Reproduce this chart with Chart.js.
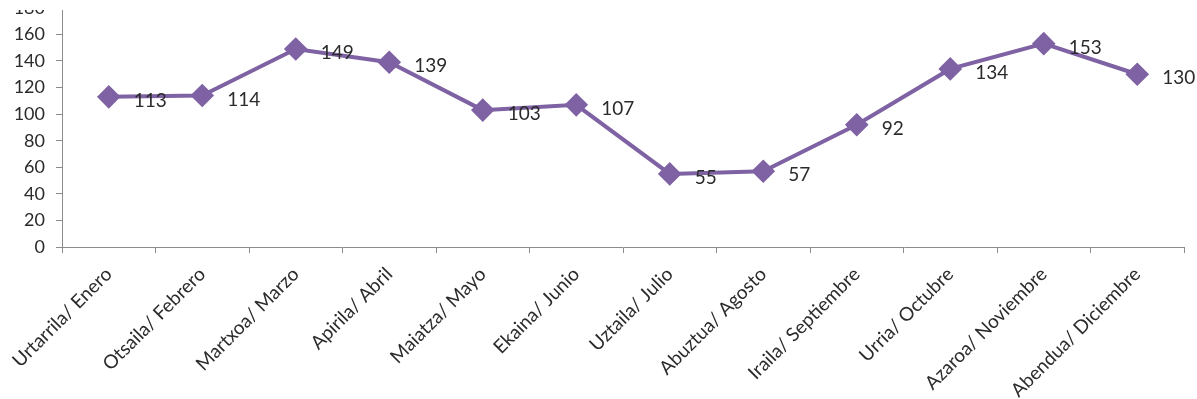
<!DOCTYPE html>
<html>
<head>
<meta charset="utf-8">
<script src="https://cdn.jsdelivr.net/npm/chart.js@4/dist/chart.umd.min.js"></script>
<style>
  html, body { margin: 0; padding: 0; background: #fff; overflow: hidden; }
  #marco { position: relative; width: 1197px; height: 399px; overflow: hidden; }
  #marco canvas { position: absolute; left: 0; top: -14px; }
  /* el original viene recortado por arriba */
  #recorte { position: absolute; left: 0; top: 0; width: 1197px; height: 10px; background: #fff; }
</style>
</head>
<body>
<div id="marco">
  <canvas id="grafico" width="1197" height="420"></canvas>
  <div id="recorte"></div>
</div>
<script>
const meses = [
  "Urtarrila/ Enero", "Otsaila/ Febrero", "Martxoa/ Marzo", "Apirila/ Abril",
  "Maiatza/ Mayo", "Ekaina/ Junio", "Uztaila/ Julio", "Abuztua/ Agosto",
  "Iraila/ Septiembre", "Urria/ Octubre", "Azaroa/ Noviembre", "Abendua/ Diciembre"
];
const valores = [113, 114, 149, 139, 103, 107, 55, 57, 92, 134, 153, 130];
const ejeY = { min: 0, max: 180, paso: 20 };

const colorLinea = "#7E62A3";
const colorTexto = "#2b2b2b";
const colorEje = "#8C8C8C";
const fuente = "Lato, 'Open Sans', sans-serif";

// etiquetas de valor a la derecha de cada punto
const etiquetasValor = {
  id: "etiquetasValor",
  afterDatasetsDraw(chart) {
    const ctx = chart.ctx;
    const meta = chart.getDatasetMeta(0);
    ctx.save();
    ctx.font = "19px " + fuente;
    ctx.fillStyle = colorTexto;
    ctx.textAlign = "left";
    ctx.textBaseline = "middle";
    meta.data.forEach((p, i) => {
      ctx.fillText(String(valores[i]), p.x + 25, p.y + 4);
    });
    ctx.restore();
  }
};

new Chart(document.getElementById("grafico").getContext("2d"), {
  type: "line",
  data: {
    labels: meses,
    datasets: [{
      data: valores,
      borderColor: colorLinea,
      backgroundColor: colorLinea,
      borderWidth: 4,
      pointStyle: "rectRot",
      pointRadius: 9,
      pointHoverRadius: 9,
      tension: 0,
      fill: false,
    }],
  },
  options: {
    responsive: false,
    animation: false,
    layout: { padding: { top: 13, right: 11, left: 0, bottom: 0 } },
    plugins: { legend: { display: false }, tooltip: { enabled: false } },
    scales: {
      x: {
        offset: true,
        grid: { offset: true, drawOnChartArea: false, color: colorEje, tickLength: 6 },
        border: { color: colorEje, width: 1 },
        ticks: {
          color: colorTexto,
          font: { family: fuente, size: 19 },
          minRotation: 45,
          maxRotation: 45,
          autoSkip: false,
          padding: 10,
        },
        afterFit(scale) { scale.height = 159; },
      },
      y: {
        min: ejeY.min,
        max: ejeY.max,
        grid: { drawOnChartArea: false, color: colorEje, tickLength: 6 },
        border: { color: colorEje, width: 1 },
        ticks: {
          stepSize: ejeY.paso,
          color: colorTexto,
          font: { family: fuente, size: 18 },
          padding: 11,
        },
        afterFit(scale) { scale.width = 62; },
      },
    },
  },
  plugins: [etiquetasValor],
});
</script>
</body>
</html>
